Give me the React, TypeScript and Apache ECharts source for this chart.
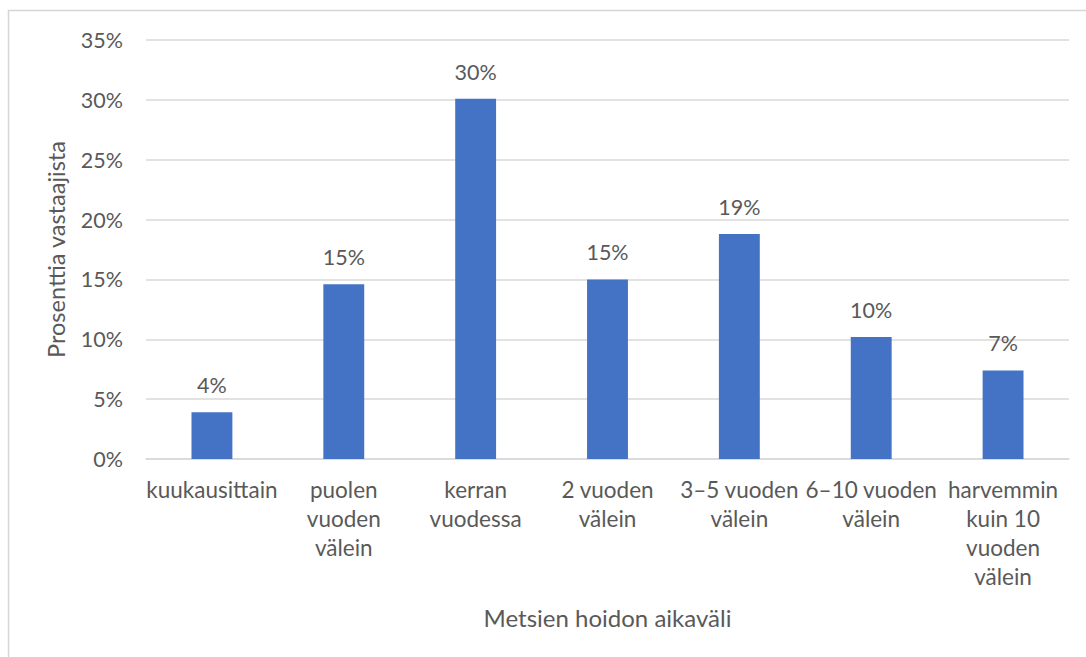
import React, { useEffect, useRef } from "react";
import * as echarts from "echarts";

const categories = [
  "kuukausittain",
  "puolen\nvuoden\nvälein",
  "kerran\nvuodessa",
  "2 vuoden\nvälein",
  "3–5 vuoden\nvälein",
  "6–10 vuoden\nvälein",
  "harvemmin\nkuin 10\nvuoden\nvälein",
];
const values = [3.9, 14.6, 30.1, 15.0, 18.8, 10.2, 7.4];
const yTicks = [0, 5, 10, 15, 20, 25, 30, 35];
const xTitle = "Metsien hoidon aikaväli";
const yTitle = "Prosenttia vastaajista";

const FONT = "Lato, 'Noto Sans', sans-serif";
const TEXT = "#595959";
const GRID = "#d9d9d9";
const BAR = "#4472c4";

export default function App() {
  const ref = useRef<HTMLDivElement>(null);
  useEffect(() => {
    if (!ref.current) return;
    const chart = echarts.init(ref.current, undefined, { renderer: "svg" });
    chart.setOption({
      animation: false,
      backgroundColor: "#ffffff",
      textStyle: { fontFamily: FONT, color: TEXT },
      graphic: [
        {
          type: "rect",
          shape: { x: 8.5, y: 10.5, width: 1200, height: 800 },
          style: { fill: "none", stroke: "#d6d6d6", lineWidth: 1.5 },
          silent: true,
          z: -1,
        },
      ],
      grid: { left: 146, right: 17, top: 40, bottom: 198, containLabel: false },
      xAxis: {
        type: "category",
        data: categories,
        axisLine: { lineStyle: { color: GRID, width: 1.5 } },
        axisTick: { show: false },
        axisLabel: {
          interval: 0,
          color: TEXT,
          fontFamily: FONT,
          fontSize: 22.5,
          lineHeight: 29,
          margin: 16,
        },
        name: xTitle,
        nameLocation: "middle",
        nameGap: 144,
        nameTextStyle: { color: TEXT, fontFamily: FONT, fontSize: 24, lineHeight: 28 },
      },
      yAxis: {
        type: "value",
        min: yTicks[0],
        max: yTicks[yTicks.length - 1],
        interval: 5,
        axisLine: { show: false },
        axisTick: { show: false },
        splitLine: { lineStyle: { color: GRID, width: 1.5 } },
        axisLabel: {
          color: TEXT,
          fontFamily: FONT,
          fontSize: 21.5,
          margin: 23,
          formatter: (v: number) => `${v}%`,
        },
        name: yTitle,
        nameLocation: "middle",
        nameGap: 76,
        nameRotate: 90,
        nameTextStyle: { color: TEXT, fontFamily: FONT, fontSize: 23.5, lineHeight: 28 },
      },
      series: [
        {
          type: "bar",
          data: values,
          barWidth: "31%",
          itemStyle: { color: BAR },
          label: {
            show: true,
            position: "top",
            distance: 15,
            color: TEXT,
            fontFamily: FONT,
            fontSize: 21.5,
            lineHeight: 24,
            formatter: (p: any) => `${Math.round(p.value)}%`,
          },
        },
      ],
    });
    return () => chart.dispose();
  }, []);
  return (
    <div
      ref={ref}
      style={{ position: "fixed", left: 0, top: 0, width: 1086, height: 657, background: "#fff" }}
    />
  );
}
